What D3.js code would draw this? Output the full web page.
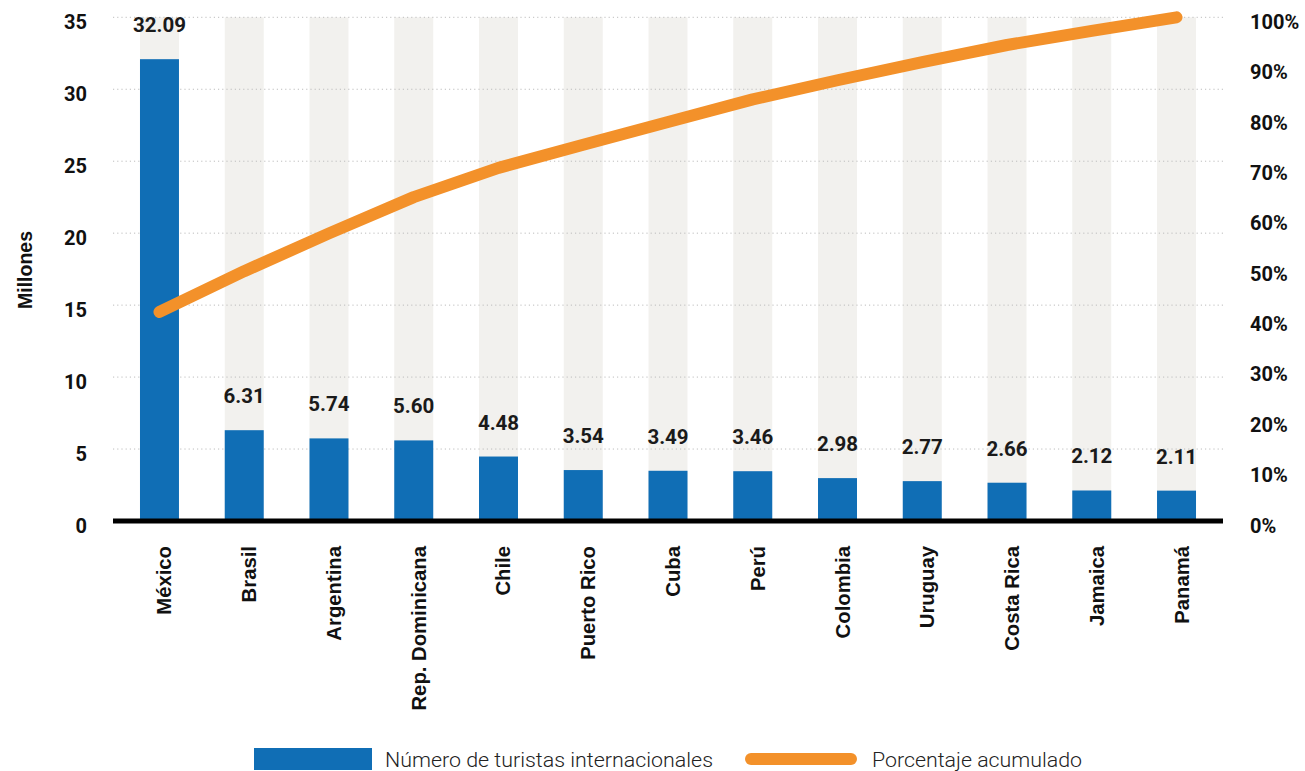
<!DOCTYPE html>
<html>
<head>
<meta charset="utf-8">
<script src="https://cdn.jsdelivr.net/npm/d3@7"></script>
<style>
  html, body { margin: 0; padding: 0; background: #fff; }
  svg { display: block; }
</style>
</head>
<body>
<svg id="chart" width="1305" height="771"></svg>
<script>
const categories = ["México", "Brasil", "Argentina", "Rep. Dominicana", "Chile", "Puerto Rico", "Cuba", "Perú", "Colombia", "Uruguay", "Costa Rica", "Jamaica", "Panamá"];
const turistas = [32.09, 6.31, 5.74, 5.60, 4.48, 3.54, 3.49, 3.46, 2.98, 2.77, 2.66, 2.12, 2.11];
const acumulado = [41.5, 49.6, 57.1, 64.3, 70.1, 74.7, 79.2, 83.7, 87.5, 91.1, 94.5, 97.3, 100];
const leftTicks = [0, 5, 10, 15, 20, 25, 30, 35];
const rightTicks = [0, 10, 20, 30, 40, 50, 60, 70, 80, 90, 100];
const legendLabels = ["Número de turistas internacionales", "Porcentaje acumulado"];
const yTitle = "Millones";

const BLUE = "#106eb5", ORANGE = "#f3912a", GRAY = "#f2f1ee";
const svg = d3.select("#chart");

const x = d3.scaleBand().domain(categories).range([117.1, 1218.9])
  .paddingInner(0.54).paddingOuter(0.27);
const y = d3.scaleLinear().domain([0, 35]).range([521, 17.3]);
const yR = d3.scaleLinear().domain([0, 100]).range([521, 17.3]);

// background bars
svg.append("g").selectAll("rect").data(categories).join("rect")
  .attr("x", d => x(d)).attr("width", x.bandwidth())
  .attr("y", y(35)).attr("height", y(0) - y(35))
  .attr("fill", GRAY);

// gridlines
svg.append("g").selectAll("line").data(leftTicks.filter(d => d > 0)).join("line")
  .attr("x1", 113).attr("x2", 1224)
  .attr("y1", d => y(d)).attr("y2", d => y(d))
  .attr("stroke", "#bdbdbd").attr("stroke-width", 1)
  .attr("stroke-dasharray", "1.2,3");

// blue bars
svg.append("g").selectAll("rect").data(turistas).join("rect")
  .attr("x", (d, i) => x(categories[i])).attr("width", x.bandwidth())
  .attr("y", d => y(d)).attr("height", d => y(0) - y(d))
  .attr("fill", BLUE);

// value labels
svg.append("g").selectAll("text").data(turistas).join("text")
  .attr("x", (d, i) => x(categories[i]) + x.bandwidth() / 2)
  .attr("y", d => y(d) - 27)
  .attr("text-anchor", "middle")
  .attr("font-family", "Roboto, sans-serif").attr("font-weight", 700)
  .attr("font-size", 20.5).attr("fill", "#1a1a1a")
  .text(d => d.toFixed(2));

// baseline
svg.append("line").attr("x1", 113).attr("x2", 1223)
  .attr("y1", y(0)).attr("y2", y(0))
  .attr("stroke", "#000").attr("stroke-width", 5);

// cumulative line
const line = d3.line()
  .x((d, i) => x(categories[i]) + x.bandwidth() / 2)
  .y(d => yR(d));
svg.append("path").datum(acumulado).attr("d", line)
  .attr("fill", "none").attr("stroke", ORANGE).attr("stroke-width", 12)
  .attr("stroke-linecap", "round").attr("stroke-linejoin", "round");

// left axis labels
svg.append("g").selectAll("text").data(leftTicks).join("text")
  .attr("x", 87).attr("y", d => y(d)).attr("dy", "0.58em")
  .attr("text-anchor", "end")
  .attr("font-family", "Roboto, sans-serif").attr("font-weight", 700)
  .attr("font-size", 20).attr("fill", "#111")
  .text(d => d);

// right axis labels
svg.append("g").selectAll("text").data(rightTicks).join("text")
  .attr("x", 1250).attr("y", d => yR(d)).attr("dy", "0.58em")
  .attr("text-anchor", "start")
  .attr("font-family", "Roboto, sans-serif").attr("font-weight", 700)
  .attr("font-size", 20).attr("fill", "#111")
  .text(d => d + "%");

// y title
svg.append("text")
  .attr("transform", "translate(32,270) rotate(-90)")
  .attr("text-anchor", "middle")
  .attr("font-family", "'Liberation Sans', Arial, sans-serif").attr("font-weight", 700)
  .attr("font-size", 19.5).attr("fill", "#111")
  .text(yTitle);

// x labels
svg.append("g").selectAll("text").data(categories).join("text")
  .attr("transform", d => `translate(${x(d) + x.bandwidth() / 2 + 12},546) rotate(-90)`)
  .attr("text-anchor", "end")
  .attr("font-family", "'Liberation Sans', Arial, sans-serif").attr("font-weight", 700)
  .attr("font-size", 20.3).attr("fill", "#111")
  .text(d => d);

// legend
const lg = svg.append("g");
lg.append("rect").attr("x", 254).attr("y", 748).attr("width", 118).attr("height", 22).attr("fill", BLUE);
lg.append("text").attr("x", 385).attr("y", 767)
  .attr("font-family", "Roboto, sans-serif").attr("font-weight", 300)
  .attr("font-size", 20).attr("fill", "#222")
  .attr("textLength", 328).attr("lengthAdjust", "spacingAndGlyphs")
  .text(legendLabels[0]);
lg.append("line").attr("x1", 751).attr("x2", 851).attr("y1", 759).attr("y2", 759)
  .attr("stroke", ORANGE).attr("stroke-width", 12).attr("stroke-linecap", "round");
lg.append("text").attr("x", 872).attr("y", 767)
  .attr("font-family", "Roboto, sans-serif").attr("font-weight", 300)
  .attr("font-size", 20).attr("fill", "#222")
  .attr("textLength", 210).attr("lengthAdjust", "spacingAndGlyphs")
  .text(legendLabels[1]);
</script>
</body>
</html>
